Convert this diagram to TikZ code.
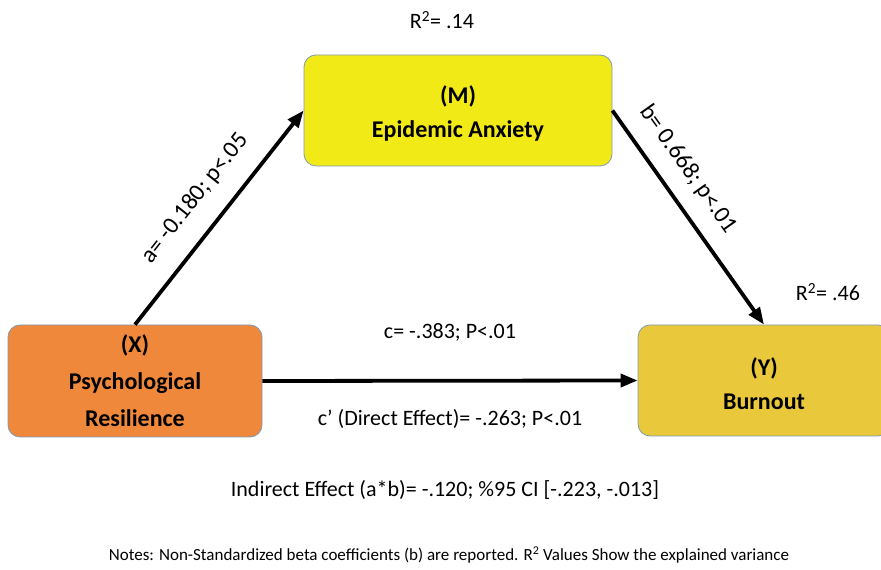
\documentclass[tikz,border=0pt]{standalone}
\usepackage{fontspec}
\setmainfont{Carlito}
\usetikzlibrary{arrows.meta, positioning}

\definecolor{orangebox}{HTML}{F0883B}
\definecolor{yellowbox}{HTML}{F2EA17}
\definecolor{goldbox}{HTML}{E9C93B}
\definecolor{boxline}{HTML}{7F9AB5}

\begin{document}
\begin{tikzpicture}[
    x=1pt, y=1pt,
    varbox/.style={rectangle, rounded corners=12pt, draw=boxline, line width=0.8pt, align=center, inner sep=0pt, font=\fontsize{24}{34}\selectfont\bfseries},
    coef/.style={font=\fontsize{22}{26}\selectfont, inner sep=2pt},
    pathlabel/.style={coef, sloped, font=\fontsize{24}{28}\selectfont},
    arrow/.style={-{Triangle[length=17pt, width=13pt]}, line width=3.8pt}
]
    \clip (0,0) rectangle (881,570);

    % Variables
    \node[varbox, fill=orangebox, minimum width=254pt, minimum height=112pt, font=\fontsize{24}{37}\selectfont\bfseries] (X) at (135,189) {(X)\\Psychological\\Resilience};
    \node[varbox, fill=yellowbox, minimum width=308pt, minimum height=111pt] (M) at (458,459.5) {\rule{0pt}{24pt}(M)\\Epidemic Anxiety};
    \node[varbox, fill=goldbox, minimum width=252pt, minimum height=111pt] (Y) at (764,189.5) {\rule{0pt}{24pt}(Y)\\Burnout};

    % R squared
    \node[coef] (r2m) at (442,550) {R\textsuperscript{2}= .14};
    \node[coef] (r2y) at (828,278) {R\textsuperscript{2}= .46};

    % Paths
    \draw[arrow] (X.north) -- node[pathlabel, above=17pt] {a= -0.180; p<.05} (M.west);
    \draw[arrow] (M.east) -- node[pathlabel, pos=0.35, above=14pt] {b= 0.668; p<.01} (Y.north);
    \draw[arrow] (X.east) -- node[above=36pt, coef] {c= -.383; P<.01} node[below=25pt, coef] {c’ (Direct Effect)= -.263; P<.01} (Y.west);

    % Notes
    \node[coef] (indirect) at (445,80) {Indirect Effect (a*b)= -.120; \%95 CI [-.223, -.013]};
    \node[coef, font=\fontsize{17}{20}\selectfont] (notes) at (449,15) {Notes: Non-Standardized beta coefficients (b) are reported. R\textsuperscript{2} Values Show the explained variance};
\end{tikzpicture}
\end{document}
